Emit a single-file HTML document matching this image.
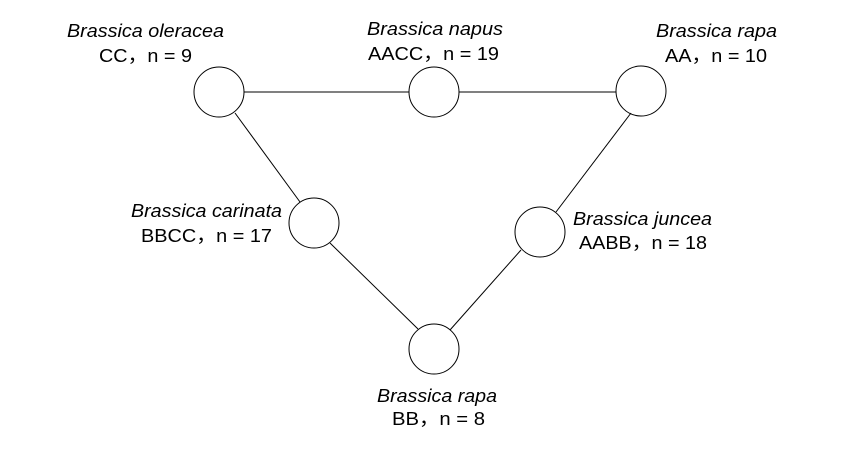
<!DOCTYPE html>
<html><head><meta charset="utf-8"><style>
html,body{margin:0;padding:0;background:#fff;}
svg{display:block}
text{font-family:"Liberation Sans","Noto Sans CJK SC",sans-serif;font-size:18.5px;fill:#000}
.i{font-style:italic}
</style></head><body>
<svg width="854" height="464" viewBox="0 0 854 464" xmlns="http://www.w3.org/2000/svg">
<g stroke="#000" stroke-width="1" fill="none">
<line x1="244" y1="92" x2="409" y2="92"/>
<line x1="459" y1="92" x2="616" y2="92"/>
<line x1="235" y1="113" x2="300" y2="202"/>
<line x1="330" y1="243" x2="418" y2="329"/>
<line x1="450" y1="330" x2="521" y2="250"/>
<line x1="556" y1="212" x2="631" y2="113"/>
<circle cx="219" cy="92" r="25"/>
<circle cx="434" cy="92" r="25"/>
<circle cx="641" cy="91" r="25"/>
<circle cx="314" cy="223" r="25"/>
<circle cx="540" cy="232" r="25"/>
<circle cx="434" cy="349" r="25"/>
</g>
<text class="i" x="67" y="37" textLength="157" lengthAdjust="spacingAndGlyphs">Brassica oleracea</text>
<text x="99" y="62" textLength="93" lengthAdjust="spacingAndGlyphs">CC，n = 9</text>
<text class="i" x="367" y="35" textLength="136" lengthAdjust="spacingAndGlyphs">Brassica napus</text>
<text x="368" y="60" textLength="131" lengthAdjust="spacingAndGlyphs">AACC，n = 19</text>
<text class="i" x="656" y="37" textLength="121" lengthAdjust="spacingAndGlyphs">Brassica rapa</text>
<text x="665" y="62" textLength="102" lengthAdjust="spacingAndGlyphs">AA，n = 10</text>
<text class="i" x="131" y="217" textLength="151" lengthAdjust="spacingAndGlyphs">Brassica carinata</text>
<text x="141" y="242" textLength="131" lengthAdjust="spacingAndGlyphs">BBCC，n = 17</text>
<text class="i" x="573" y="225" textLength="139" lengthAdjust="spacingAndGlyphs">Brassica juncea</text>
<text x="579" y="249" textLength="128" lengthAdjust="spacingAndGlyphs">AABB，n = 18</text>
<text class="i" x="377" y="402" textLength="120" lengthAdjust="spacingAndGlyphs">Brassica rapa</text>
<text x="392" y="425" textLength="93" lengthAdjust="spacingAndGlyphs">BB，n = 8</text>
</svg>
</body></html>
